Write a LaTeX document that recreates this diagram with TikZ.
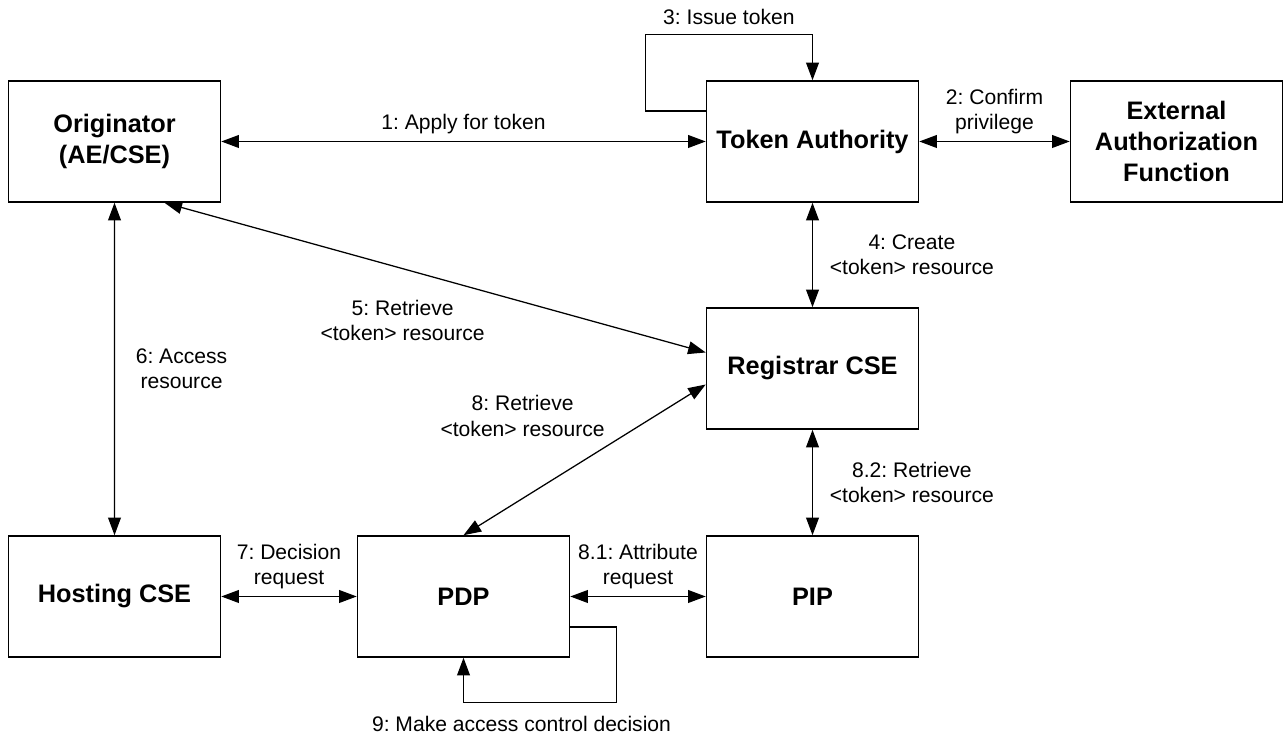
\documentclass[tikz,border=0pt]{standalone}
\usepackage{fontspec}
\setmainfont{Liberation Sans}
\usetikzlibrary{arrows.meta,positioning,calc}
\frenchspacing

\begin{document}
\begin{tikzpicture}[
  node distance=17.45cm,
  msg/.style={font=\fontsize{15}{18}\selectfont, align=center},
  link/.style={line width=0.9pt, {Triangle[length=4.4mm,width=3.2mm]}-{Triangle[length=4.4mm,width=3.2mm]}},
  oneway/.style={line width=0.9pt, -{Triangle[length=4.4mm,width=3.2mm]}}
]
	\tikzstyle{entity} = [rectangle, minimum width=5.3cm, minimum height=3.025cm, text centered, align=center, draw=black, line width=1.1pt, font=\fontsize{18}{22}\selectfont\bfseries]

	\useasboundingbox (0,0) rectangle (32.075,18.4);

	\node (originator) [entity] at (2.8625,14.8625) {Originator\\(AE/CSE)};
	\node (tokenAuthority) [entity, right of=originator, node distance=17.45cm] {Token Authority};
	\node (extAuth) [entity, right of=tokenAuthority, node distance=9.1cm] {External\\Authorization\\Function};
	\node (registrar) [entity, below of=tokenAuthority, node distance=5.675cm] {Registrar CSE};
	\node (pip) [entity, below of=registrar, node distance=5.7cm] {PIP};
	\node (pdp) [entity, left of=pip, node distance=8.725cm] {PDP};
	\node (hosting) [entity, left of=pdp, node distance=8.725cm] {Hosting CSE};

	\draw[link] (originator) -- node[msg, above=0.5mm] (msg1) {1: Apply for token} (tokenAuthority);
	\draw[link] (tokenAuthority) -- node[msg, above=0.5mm] (msg2) {2: Confirm\\privilege} (extAuth);
	\draw[link] (tokenAuthority) -- node[msg, right=3mm] (msg4) {4: Create\\<token> resource} (registrar);
	\draw[link] ([xshift=1.25cm]originator.south) -- node[msg, xshift=-0.8125cm, yshift=-1.0625cm] (msg5) {5: Retrieve\\<token> resource} ([yshift=4mm]registrar.west);
	\draw[link] (originator) -- node[msg, right=4mm] (msg6) {6: Access\\resource} (hosting);
	\draw[link] (hosting) -- node[msg, above=0.5mm] (msg7) {7: Decision\\request} (pdp);
	\draw[link] ([yshift=-4mm]registrar.west) -- node[msg, xshift=-1.55cm, yshift=1.1cm] (msg8) {8: Retrieve\\<token> resource} (pdp.north);
	\draw[link] (pdp) -- node[msg, above=0.5mm] (msg81) {8.1: Attribute\\request} (pip);
	\draw[link] (registrar) -- node[msg, right=3mm] (msg82) {8.2: Retrieve\\<token> resource} (pip);

	\coordinate (taTop) at ([yshift=1.15cm]tokenAuthority.north);
	\draw[oneway] ([yshift=7.625mm]tokenAuthority.west) -- ++(-1.5125cm,0) |- node[msg, pos=0.75, above=1mm] (msg3) {3: Issue token} (taTop) -- (tokenAuthority.north);

	\coordinate (pdpBottom) at ([yshift=-1.125cm]pdp.south);
	\draw[oneway] ([yshift=-7.625mm]pdp.east) -- ++(1.1625cm,0) |- (pdpBottom) -- (pdp.south);
	\node (msg9) [msg, below=2mm of pdpBottom, xshift=1.45cm] {9: Make access control decision};

\end{tikzpicture}
\end{document}
